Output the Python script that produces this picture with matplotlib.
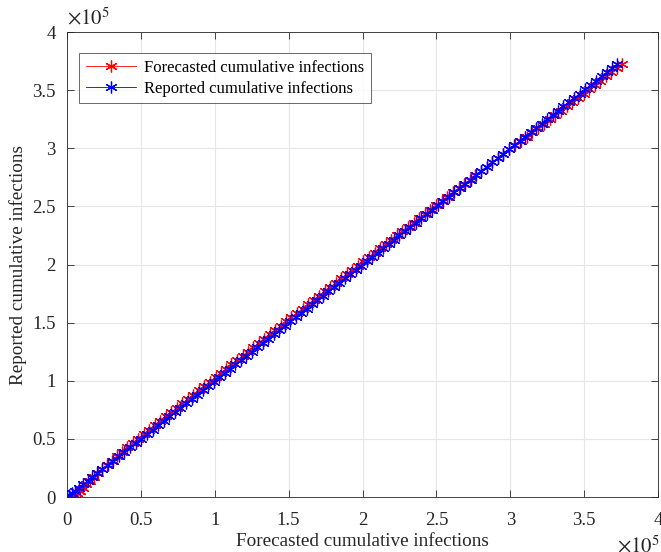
import matplotlib
matplotlib.use("Agg")
import matplotlib.pyplot as plt
from matplotlib.ticker import FixedLocator

reported = [
    0, 1500, 3400, 5600, 8100, 10900, 13900, 17100, 20500, 24000,
    27600, 31300, 35000, 38800, 42600, 46400, 50300, 54100, 57900, 61700,
    65500, 69300, 73000, 76800, 80500, 84300, 88000, 91800, 95500, 99200,
    102900, 106600, 110300, 114000, 117700, 121400, 125100, 128800, 132500, 136200,
    139900, 143600, 147300, 151000, 154700, 158400, 162100, 165800, 169500, 173200,
    176900, 180600, 184300, 188000, 191700, 195400, 199100, 202800, 206500, 210200,
    213900, 217600, 221300, 225000, 228700, 232400, 236100, 239800, 243500, 247200,
    250900, 254600, 258300, 262000, 265700, 269400, 273100, 276800, 280500, 284200,
    287900, 291600, 295300, 299000, 302700, 306400, 310100, 313800, 317500, 321200,
    324900, 328600, 332300, 336000, 339700, 343400, 347100, 350800, 354500, 358200,
    361900, 365500, 369000, 372500]

forecast = [
    4200, 5400, 7000, 8800, 10800, 13100, 15500, 18100, 20900, 23900,
    27100, 30400, 33800, 37300, 40900, 44500, 48300, 52000, 55700, 59500,
    63200, 66900, 70700, 74300, 78100, 82000, 85500, 89400, 92900, 96700,
    100500, 104000, 107800, 111300, 115100, 118900, 122400, 126200, 129700, 133500,
    137300, 140800, 144600, 148400, 151900, 155700, 159500, 163100, 167000, 170600,
    174500, 178100, 182000, 185600, 189500, 193100, 197000, 200600, 204500, 208200,
    212000, 215700, 219500, 223200, 227000, 230800, 234600, 238400, 242200, 246000,
    249800, 253600, 257400, 261200, 265000, 268800, 272600, 276400, 280200, 284000,
    287800, 291600, 295400, 299300, 303200, 307100, 311000, 314900, 318800, 322700,
    326600, 330500, 334300, 338200, 342000, 345800, 349600, 353400, 357200, 361000,
    364800, 368500, 372100, 375800]

ticks = [0, 50000, 100000, 150000, 200000, 250000, 300000, 350000, 400000]
tick_labels = ["0", "0.5", "1", "1.5", "2", "2.5", "3", "3.5", "4"]

plt.rcParams['font.family'] = ['Liberation Serif', 'DejaVu Serif']
plt.rcParams['mathtext.fontset'] = 'stix'

fig = plt.figure(figsize=(6.61, 5.52), dpi=100)
ax = fig.add_axes([0.1014, 0.0996, 0.8941, 0.8424])

ast = (6, 2, 0)
ax.plot(forecast, reported, color='#ff0000', marker=ast, ms=8.5, mew=0.9, lw=0.6,
        label='Forecasted cumulative infections')
ax.plot(reported, reported, color='#0000ff', marker=ast, ms=8.5, mew=0.9, lw=0.6,
        label='Reported cumulative infections')

ax.set_xlim(0, 400000)
ax.set_ylim(0, 400000)
ax.xaxis.set_major_locator(FixedLocator(ticks))
ax.yaxis.set_major_locator(FixedLocator(ticks))
ax.set_xticklabels(tick_labels)
ax.set_yticklabels(tick_labels)

dark = '#262626'
ax.tick_params(direction='in', top=True, right=True, length=5, width=0.6,
               colors=dark, labelsize=13.5)
ax.tick_params(axis='x', pad=11)
ax.tick_params(axis='y', pad=8)
for s in ax.spines.values():
    s.set_color(dark)
    s.set_linewidth(0.6)
ax.grid(True, color='#e6e6e6', lw=0.8)
ax.set_axisbelow(True)

ax.set_xlabel('Forecasted cumulative infections', fontsize=13.8, color=dark, labelpad=3)
ax.set_ylabel('Reported cumulative infections', fontsize=13.8, color=dark, labelpad=4)

ax.text(0.0, 1.005, r'$\times10^5$', transform=ax.transAxes, fontsize=15,
        color=dark, ha='left', va='bottom')
ax.text(0.93, -0.083, r'$\times10^5$', transform=ax.transAxes, fontsize=15,
        color=dark, ha='left', va='top')

leg = ax.legend(loc='upper left', bbox_to_anchor=(0.02, 0.955), fontsize=12,
                frameon=True, fancybox=False, edgecolor=dark, handlelength=3.0,
                borderpad=0.4, labelspacing=0.3, handletextpad=0.5, borderaxespad=0)
leg.get_frame().set_linewidth(0.6)

fig.savefig('out.png', dpi=100)
